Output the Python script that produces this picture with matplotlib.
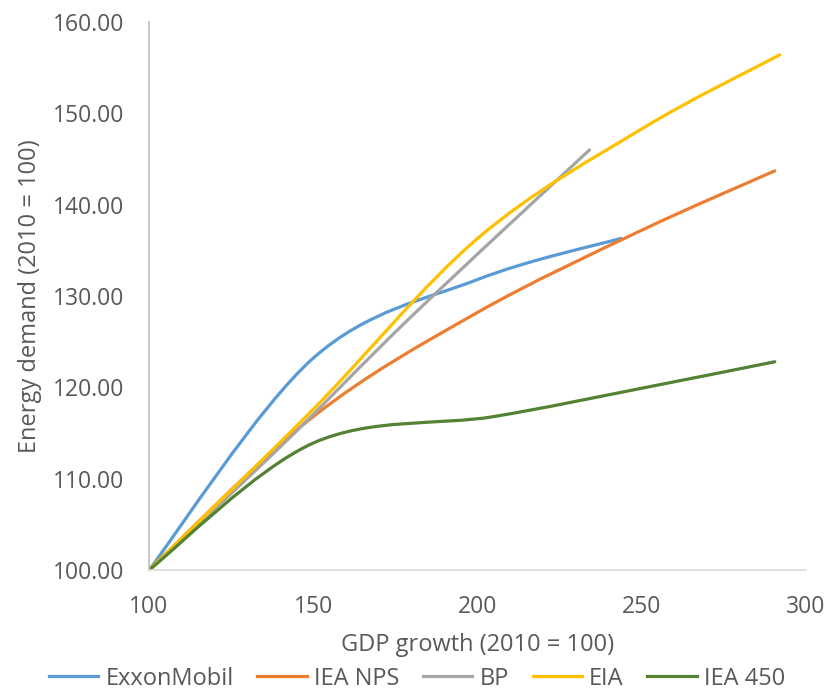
import matplotlib
matplotlib.use('Agg')
import matplotlib.pyplot as plt
import numpy as np
from matplotlib.lines import Line2D
from matplotlib.patches import PathPatch
from matplotlib.path import Path

plt.rcParams['font.family'] = ['Open Sans', 'DejaVu Sans']

# GDP growth (x) vs energy demand (y), both indexed 2010 = 100
series_names = ['ExxonMobil', 'IEA NPS', 'BP', 'EIA', 'IEA 450']
exxon_gdp = [100, 150, 200, 243.6]
exxon_energy = [100, 123.2, 131.8, 136.3]
iea_nps_gdp = [100, 150, 200, 250, 290.5]
iea_nps_energy = [100, 116.8, 128.2, 137.2, 143.7]
bp_gdp = [100, 140, 180, 234.1]
bp_energy = [100, 113.5, 127.8, 146.0]
eia_gdp = [100, 150, 200, 250, 292]
eia_energy = [100, 117.6, 136.3, 148.3, 156.4]
iea_450_gdp = [100, 150, 205, 250, 290.5]
iea_450_energy = [100, 113.9, 116.8, 119.9, 122.8]

colors = ['#5B9BD5', '#ED7D31', '#A5A5A5', '#FFC000', '#548235']
text_color = '#595959'


def smooth_path(xs, ys):
    # spreadsheet-style smoothed line: cubic Bezier segments with
    # Catmull-Rom control points (endpoints duplicated)
    pts = np.column_stack([xs, ys]).astype(float)
    padded = np.vstack([pts[0], pts, pts[-1]])
    verts = [pts[0]]
    codes = [Path.MOVETO]
    for i in range(len(pts) - 1):
        p0, p1, p2, p3 = padded[i], padded[i + 1], padded[i + 2], padded[i + 3]
        c1 = p1 + (p2 - p0) / 6
        c2 = p2 - (p3 - p1) / 6
        verts += [c1, c2, p2]
        codes += [Path.CURVE4] * 3
    return Path(verts, codes)


fig = plt.figure(figsize=(8.34, 6.94), dpi=100)
ax = fig.add_axes([0.1787, 0.1787, 0.7877, 0.7896])

data = [(exxon_gdp, exxon_energy), (iea_nps_gdp, iea_nps_energy),
        (bp_gdp, bp_energy), (eia_gdp, eia_energy),
        (iea_450_gdp, iea_450_energy)]
for (xs, ys), color in zip(data, colors):
    patch = PathPatch(smooth_path(xs, ys), facecolor='none', edgecolor=color,
                      linewidth=2.3, capstyle='round', joinstyle='round')
    ax.add_patch(patch)

ax.set_xlim(100, 300)
ax.set_ylim(100, 160)
ax.set_xticks(np.arange(100, 301, 50))
ax.set_yticks(np.arange(100, 161, 10))
ax.yaxis.set_major_formatter(plt.FormatStrFormatter('%.2f'))
ax.tick_params(length=0, labelsize=16.5, labelcolor=text_color, pad=18)

for side in ['top', 'right']:
    ax.spines[side].set_visible(False)
ax.spines['left'].set_color('#BFBFBF')
ax.spines['bottom'].set_color('#D9D9D9')
ax.spines['left'].set_linewidth(1.2)
ax.spines['bottom'].set_linewidth(1.2)

ax.set_xlabel('GDP growth (2010 = 100)', fontsize=17, color=text_color, labelpad=10)
ax.set_ylabel('Energy demand (2010 = 100)', fontsize=17, color=text_color, labelpad=8)

handles = [Line2D([], [], color=c, linewidth=2.3) for c in colors]
fig.legend(handles, series_names, loc='center', bbox_to_anchor=(0.5, 0.022),
           ncol=5, frameon=False, fontsize=17, labelcolor=text_color,
           handlelength=2.1, handletextpad=0.3, columnspacing=1.0,
           borderpad=0.1)

fig.savefig('out.png', dpi=100)
